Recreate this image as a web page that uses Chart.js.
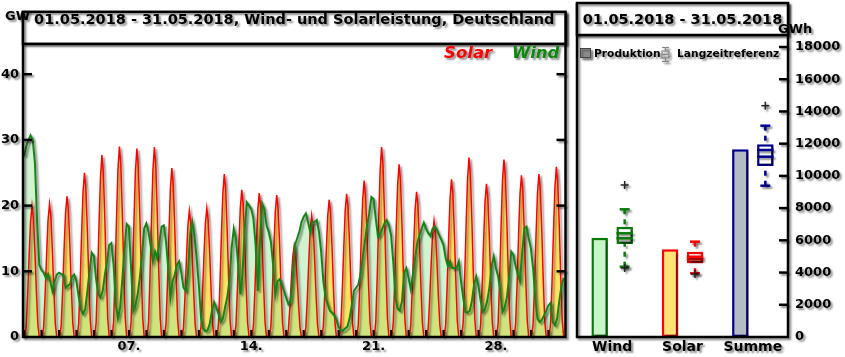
<!DOCTYPE html>
<html><head><meta charset="utf-8">
<script src="https://cdn.jsdelivr.net/npm/chart.js@4/dist/chart.umd.min.js"></script>
<style>
html,body{margin:0;padding:0;background:#fff;width:845px;height:357px;overflow:hidden}
#cl{position:absolute;left:0;top:0}
#cr{position:absolute;left:572px;top:0}
</style></head><body>
<canvas id="cl" width="572" height="357"></canvas>
<canvas id="cr" width="273" height="357"></canvas>
<script>
// ---------------- DATA ----------------
// Left chart: wind power (GW), one value every 3 hours starting 01.05.2018 00:00
const WIND_STEP_H = 3;
const windGW = [
  27.5, 29.0, 30.0, 30.7, 30.0, 26.5, 17.5, 11.0,
  10.2, 9.8, 9.0, 9.6, 8.5, 7.0, 8.5, 9.5,
  9.8, 9.6, 9.5, 7.5, 7.8, 8.0, 9.2, 9.5,
  8.5, 6.2, 4.2, 3.5, 4.2, 7.0, 10.0, 12.8,
  12.3, 8.8, 6.5, 6.0, 7.0, 9.5, 11.5, 14.0,
  14.3, 11.0, 5.0, 2.8, 4.5, 8.8, 13.5, 17.2,
  16.8, 10.5, 4.0, 4.8, 6.5, 9.0, 12.5, 16.5,
  17.3, 16.0, 13.8, 11.5, 13.0, 12.0, 14.5, 16.8,
  17.0, 14.5, 10.5, 6.0, 8.5, 9.5, 11.0, 11.5,
  9.8, 7.5, 7.0, 9.5, 15.5, 17.5, 15.5, 12.0,
  8.0, 3.0, 1.3, 0.9, 1.0, 2.0, 4.0, 5.3,
  4.5, 3.5, 2.3, 2.8, 4.5, 6.0, 8.5, 13.5,
  16.5, 15.0, 11.0, 6.5, 9.5, 16.5, 20.5, 20.0,
  19.5, 18.0, 14.0, 7.0, 14.5, 20.3, 19.5, 17.0,
  16.0, 14.5, 11.0, 6.5, 8.5, 8.8, 8.0, 7.0,
  6.0, 5.0, 5.5, 9.0, 14.0, 15.0, 16.0, 17.5,
  18.3, 18.8, 17.5, 16.0, 17.5, 17.5, 17.8, 16.0,
  13.0, 8.5, 6.0, 5.0, 4.0, 3.7, 3.3, 2.6,
  1.5, 1.0, 1.0, 1.3, 1.6, 2.8, 4.8, 7.0,
  7.5, 8.0, 9.5, 12.0, 14.5, 17.0, 18.8, 21.3,
  21.0, 18.0, 15.3, 15.7, 16.5, 17.3, 17.8, 17.0,
  15.5, 11.5, 6.0, 4.3, 4.0, 5.5, 9.8, 10.5,
  9.0, 7.3, 9.5, 12.0, 14.3, 15.5, 16.5, 17.4,
  16.5, 15.8, 15.4, 16.5, 16.8, 16.3, 15.5, 14.8,
  14.0, 12.0, 10.8, 11.5, 10.5, 10.5, 10.5, 11.5,
  8.5, 6.0, 3.8, 3.7, 4.0, 5.5, 8.0, 9.2,
  7.8, 5.5, 3.8, 4.2, 5.5, 7.5, 10.8, 12.3,
  10.5, 9.2, 7.0, 3.8, 4.5, 6.0, 9.0, 13.0,
  12.5, 10.8, 9.5, 8.5, 12.8, 16.5, 16.8, 15.0,
  13.5, 10.5, 6.0, 2.8, 2.3, 2.6, 3.3, 4.0,
  4.8, 5.2, 2.3, 1.8, 2.8, 5.5, 7.8, 9.0
];
// Solar power (GW): daylight samples per day at these hours; other hours are 0
const solarHours = [3, 5, 7, 9, 11, 13, 15, 17, 19];
const solarGW = [
  [1.6, 6.4, 12.4, 17.6, 20.0, 18.0, 13.0, 7.0, 2.0],
  [1.6, 6.5, 12.5, 17.8, 20.2, 18.2, 13.1, 7.1, 2.0],
  [1.7, 6.8, 13.3, 18.8, 21.4, 19.3, 13.9, 7.5, 2.1],
  [2.0, 8.0, 15.5, 22.0, 25.0, 22.5, 16.3, 8.8, 2.5],
  [2.2, 8.9, 17.2, 24.4, 27.7, 24.9, 18.0, 9.7, 2.8],
  [2.3, 9.3, 18.0, 25.5, 29.0, 26.1, 18.9, 10.2, 2.9],
  [2.3, 9.2, 17.8, 25.3, 28.7, 25.8, 18.7, 10.0, 2.9],
  [2.3, 9.2, 17.9, 25.4, 28.9, 26.0, 18.8, 10.1, 2.9],
  [2.1, 8.2, 15.9, 22.6, 25.7, 23.1, 16.7, 9.0, 2.6],
  [1.5, 6.1, 11.9, 16.9, 19.2, 17.3, 12.5, 6.7, 1.9],
  [1.6, 6.3, 12.2, 17.2, 19.6, 17.6, 12.7, 6.9, 2.0],
  [2.0, 7.9, 15.4, 21.8, 24.8, 22.3, 16.1, 8.7, 2.5],
  [1.8, 7.2, 13.9, 19.7, 22.4, 20.2, 14.6, 7.8, 2.2],
  [1.8, 7.0, 13.6, 19.3, 21.9, 19.7, 14.2, 7.7, 2.2],
  [1.7, 6.9, 13.4, 19.0, 21.6, 19.4, 14.0, 7.6, 2.2],
  [1.1, 4.4, 8.6, 12.2, 13.9, 12.5, 9.0, 4.9, 1.4],
  [1.5, 5.9, 11.5, 16.3, 18.5, 16.7, 12.0, 6.5, 1.9],
  [1.7, 6.7, 13.0, 18.4, 20.9, 18.8, 13.6, 7.3, 2.1],
  [1.7, 7.0, 13.5, 19.2, 21.8, 19.6, 14.2, 7.6, 2.2],
  [1.9, 7.6, 14.8, 20.9, 23.8, 21.4, 15.5, 8.3, 2.4],
  [2.3, 9.2, 17.9, 25.4, 28.9, 26.0, 18.8, 10.1, 2.9],
  [2.1, 8.4, 16.3, 23.1, 26.3, 23.7, 17.1, 9.2, 2.6],
  [1.8, 7.1, 13.7, 19.4, 22.1, 19.9, 14.4, 7.7, 2.2],
  [1.4, 5.7, 11.0, 15.6, 17.7, 15.9, 11.5, 6.2, 1.8],
  [1.9, 7.7, 14.9, 21.1, 24.0, 21.6, 15.6, 8.4, 2.4],
  [2.2, 8.7, 16.9, 24.0, 27.3, 24.6, 17.7, 9.6, 2.7],
  [1.9, 7.5, 14.4, 20.5, 23.3, 21.0, 15.1, 8.2, 2.3],
  [2.2, 8.6, 16.7, 23.8, 27.0, 24.3, 17.6, 9.5, 2.7],
  [2.0, 7.9, 15.3, 21.6, 24.6, 22.1, 16.0, 8.6, 2.5],
  [2.0, 7.9, 15.4, 21.8, 24.8, 22.3, 16.1, 8.7, 2.5],
  [2.1, 8.3, 16.1, 22.8, 25.9, 23.3, 16.8, 9.1, 2.6]
];
const xTickDays = [7, 14, 21, 28];
const xTickLabels = ['07.', '14.', '21.', '28.'];
const yTicksGW = [0, 10, 20, 30, 40];
const leftTitle = '01.05.2018 - 31.05.2018, Wind- und Solarleistung, Deutschland';

// Right chart: monthly energy (GWh) and long-term reference box plots
const categories = ['Wind', 'Solar', 'Summe'];
const production = [6165, 5442, 11650];
const refMin = [4364, 3954, 9391];
const refQ1 = [5772, 4574, 10614];
const refMedian = [6126, 4830, 11192];
const refMean = [6437, 4984, 11607];
const refQ3 = [6846, 5295, 11961];
const refMax = [7926, 5916, 13116];
const refOutliers = [[9435, 4283], [3910], [14357]];
const yTicksGWh = [0, 2000, 4000, 6000, 8000, 10000, 12000, 14000, 16000, 18000];
const rightTitle = '01.05.2018 - 31.05.2018';

// ---------------- STYLE ----------------
const FONT = 'DejaVu Sans';
Chart.defaults.font.family = FONT;
Chart.defaults.font.weight = 'bold';
Chart.defaults.color = '#000';
const catBorder = ['#0a7a0a', '#ff0000', '#00008c'];
const catFill = ['#c6f5c6', '#ffe272', '#b3bbc5'];

function setShadow(ctx) {
  ctx.shadowColor = 'rgba(0,0,0,0.45)';
  ctx.shadowBlur = 2;
  ctx.shadowOffsetX = 2;
  ctx.shadowOffsetY = 2;
}
function ln(ctx, x1, y1, x2, y2) { ctx.beginPath(); ctx.moveTo(x1, y1); ctx.lineTo(x2, y2); ctx.stroke(); }

const shadowPlugin = {
  id: 'shadowAll',
  beforeDraw(c) { c.ctx.save(); setShadow(c.ctx); },
  afterDraw(c) { c.ctx.restore(); }
};

// ---------------- LEFT CHART ----------------
const windPoints = windGW.map((v, i) => ({ x: i * WIND_STEP_H, y: v }));
const solarPoints = [];
for (let d = 0; d < solarGW.length; d++) {
  for (let h = 1; h < 24; h += 2) {
    const k = solarHours.indexOf(h);
    solarPoints.push({ x: d * 24 + h, y: k >= 0 ? solarGW[d][k] : 0 });
  }
}

const leftDecor = {
  id: 'leftDecor',
  afterDraw(c) {
    const ctx = c.ctx, a = c.chartArea, ys = c.scales.y, xs = c.scales.x;
    ctx.save();
    setShadow(ctx);
    ctx.strokeStyle = '#000';
    ctx.lineWidth = 2.5;
    yTicksGW.forEach(v => {
      if (!v) return;
      const y = ys.getPixelForValue(v);
      ln(ctx, a.left, y, a.left + 9, y);
      ln(ctx, a.right, y, a.right - 9, y);
    });
    ctx.lineWidth = 2;
    for (let d = 0; d <= 31; d++) {
      const h = d * 24;
      if (h > xs.max) continue;
      const x = xs.getPixelForValue(h);
      ln(ctx, x, a.bottom, x, a.bottom - 7);
    }
    ctx.lineWidth = 2.5;
    ctx.beginPath();
    ctx.moveTo(a.left, a.top); ctx.lineTo(a.left, a.bottom); ctx.lineTo(a.right, a.bottom); ctx.lineTo(a.right, a.top);
    ctx.stroke();
    // title box
    ctx.fillStyle = '#fff';
    ctx.fillRect(a.left, a.top, a.right - a.left, 32);
    ctx.strokeRect(a.left, a.top, a.right - a.left, 32);
    ctx.fillStyle = '#000';
    ctx.font = 'bold 14.5px ' + FONT;
    ctx.textBaseline = 'middle';
    ctx.textAlign = 'center';
    ctx.fillText(leftTitle, (a.left + a.right) / 2, 20);
    ctx.textAlign = 'left';
    ctx.font = 'bold 13px ' + FONT;
    ctx.fillText('GW', 5, 17);
    ctx.font = 'italic bold 16.5px ' + FONT;
    ctx.textBaseline = 'alphabetic';
    ctx.fillStyle = '#ff0000';
    ctx.fillText('Solar', 444, 58);
    ctx.fillStyle = '#0a8a0a';
    ctx.fillText('Wind', 512, 58);
    ctx.restore();
  }
};

new Chart(document.getElementById('cl'), {
  type: 'line',
  data: {
    datasets: [
      { label: 'Wind', data: windPoints, borderColor: '#178317', borderWidth: 2,
        backgroundColor: 'rgba(150,228,150,0.45)', fill: 'origin', pointRadius: 0, tension: 0 },
      { label: 'Solar', data: solarPoints, borderColor: '#ff0000', borderWidth: 1.5,
        backgroundColor: '#ffe266', fill: 'origin', pointRadius: 0, tension: 0 }
    ]
  },
  options: {
    responsive: false, animation: false, events: [],
    layout: { padding: { top: 3, right: 6.5, left: 0, bottom: 0 } },
    plugins: { legend: { display: false }, tooltip: { enabled: false }, filler: { drawTime: 'beforeDraw' } },
    scales: {
      x: {
        type: 'linear', min: -1.4, max: 743.5,
        grid: { display: false, drawTicks: false }, border: { display: false },
        afterBuildTicks: s => { s.ticks = xTickDays.map(d => ({ value: (d - 1) * 24 })); },
        afterFit: s => { s.height = 20; },
        ticks: { font: { size: 13, weight: 'bold' }, padding: 2, maxRotation: 0, autoSkip: false,
          callback: (v, i) => xTickLabels[i] }
      },
      y: {
        min: 0, max: 49.5,
        grid: { display: false, drawTicks: false }, border: { display: false },
        afterBuildTicks: s => { s.ticks = yTicksGW.map(v => ({ value: v })); },
        afterFit: s => { s.width = 23; },
        ticks: { font: { size: 13, weight: 'bold' }, padding: 4, callback: v => String(v) }
      }
    }
  },
  plugins: [leftDecor, shadowPlugin]
});

// ---------------- RIGHT CHART ----------------
const boxPlugin = {
  id: 'boxes',
  afterDatasetsDraw(c) {
    const ctx = c.ctx, ys = c.scales.y, meta = c.getDatasetMeta(1);
    const py = v => ys.getPixelForValue(v);
    meta.data.forEach((el, i) => {
      const x = el.x, hw = el.width / 2;
      ctx.save();
      ctx.strokeStyle = catBorder[i];
      ctx.lineWidth = 2.5;
      [refMedian[i], refMean[i]].forEach(v => ln(ctx, x - hw, py(v), x + hw, py(v)));
      ln(ctx, x - 5, py(refMax[i]), x + 5, py(refMax[i]));
      ln(ctx, x - 5, py(refMin[i]), x + 5, py(refMin[i]));
      ctx.setLineDash([5, 5]);
      ln(ctx, x, py(refMax[i]), x, py(refQ3[i]));
      ln(ctx, x, py(refMin[i]), x, py(refQ1[i]));
      ctx.setLineDash([]);
      ctx.strokeStyle = '#222';
      ctx.lineWidth = 1.5;
      refOutliers[i].forEach(v => { const y = py(v); ln(ctx, x - 4, y, x + 4, y); ln(ctx, x, y - 4, x, y + 4); });
      ctx.restore();
    });
  }
};

const rightDecor = {
  id: 'rightDecor',
  afterDraw(c) {
    const ctx = c.ctx, a = c.chartArea, ys = c.scales.y;
    ctx.save();
    setShadow(ctx);
    ctx.strokeStyle = '#000';
    ctx.lineWidth = 2.5;
    yTicksGWh.forEach(v => {
      if (!v) return;
      const y = ys.getPixelForValue(v);
      ln(ctx, a.right, y, a.right - 9, y);
    });
    const top = 3;
    ctx.beginPath();
    ctx.moveTo(a.left, top); ctx.lineTo(a.left, a.bottom); ctx.lineTo(a.right, a.bottom); ctx.lineTo(a.right, top);
    ctx.stroke();
    ctx.fillStyle = '#fff';
    ctx.fillRect(a.left, top, a.right - a.left, 32);
    ctx.strokeRect(a.left, top, a.right - a.left, 32);
    ctx.fillStyle = '#000';
    ctx.font = 'bold 14.5px ' + FONT;
    ctx.textBaseline = 'middle';
    ctx.textAlign = 'center';
    ctx.fillText(rightTitle, (a.left + a.right) / 2, 20);
    ctx.textAlign = 'left';
    ctx.font = 'bold 13px ' + FONT;
    ctx.fillText('GWh', 206, 30);
    // legend
    ctx.fillStyle = '#8a8a8a';
    ctx.strokeStyle = '#444';
    ctx.lineWidth = 1;
    ctx.fillRect(8.5, 48.5, 10, 9);
    ctx.strokeRect(8.5, 48.5, 10, 9);
    ctx.fillStyle = '#000';
    ctx.font = 'bold 10.7px ' + FONT;
    ctx.fillText('Produktion', 22, 54);
    ctx.strokeStyle = '#888';
    ctx.lineWidth = 1.2;
    ln(ctx, 90, 47.5, 97, 47.5); ln(ctx, 93.5, 47.5, 93.5, 51);
    ctx.strokeRect(90, 51, 7, 7);
    ln(ctx, 90, 54.5, 97, 54.5);
    ln(ctx, 93.5, 58, 93.5, 61.5); ln(ctx, 90, 61.5, 97, 61.5);
    ctx.fillText('Langzeitreferenz', 105, 54);
    ctx.restore();
  }
};

new Chart(document.getElementById('cr'), {
  type: 'bar',
  data: {
    labels: categories,
    datasets: [
      { label: 'Produktion', data: production, backgroundColor: catFill, borderColor: catBorder,
        borderWidth: 2.5, borderSkipped: false, categoryPercentage: 0.711, barPercentage: 0.66 },
      { label: 'Langzeitreferenz', data: refQ1.map((q, i) => [q, refQ3[i]]), backgroundColor: '#fff',
        borderColor: catBorder, borderWidth: 2.5, borderSkipped: false, categoryPercentage: 0.711, barPercentage: 0.66 }
    ]
  },
  options: {
    responsive: false, animation: false, events: [],
    layout: { padding: { left: 5, top: 47, right: 0, bottom: 0 } },
    plugins: { legend: { display: false }, tooltip: { enabled: false } },
    scales: {
      x: {
        grid: { display: false, drawTicks: false }, border: { display: false },
        afterFit: s => { s.height = 20; },
        ticks: { font: { size: 14, weight: 'bold' }, padding: 2 }
      },
      y: {
        position: 'right', min: 0, max: 18000,
        grid: { display: false, drawTicks: false }, border: { display: false },
        afterBuildTicks: s => { s.ticks = yTicksGWh.map(v => ({ value: v })); },
        afterFit: s => { s.width = 57; },
        ticks: { font: { size: 13, weight: 'bold' }, padding: 7, callback: v => String(v) }
      }
    }
  },
  plugins: [boxPlugin, rightDecor, shadowPlugin]
});
</script>
</body></html>
